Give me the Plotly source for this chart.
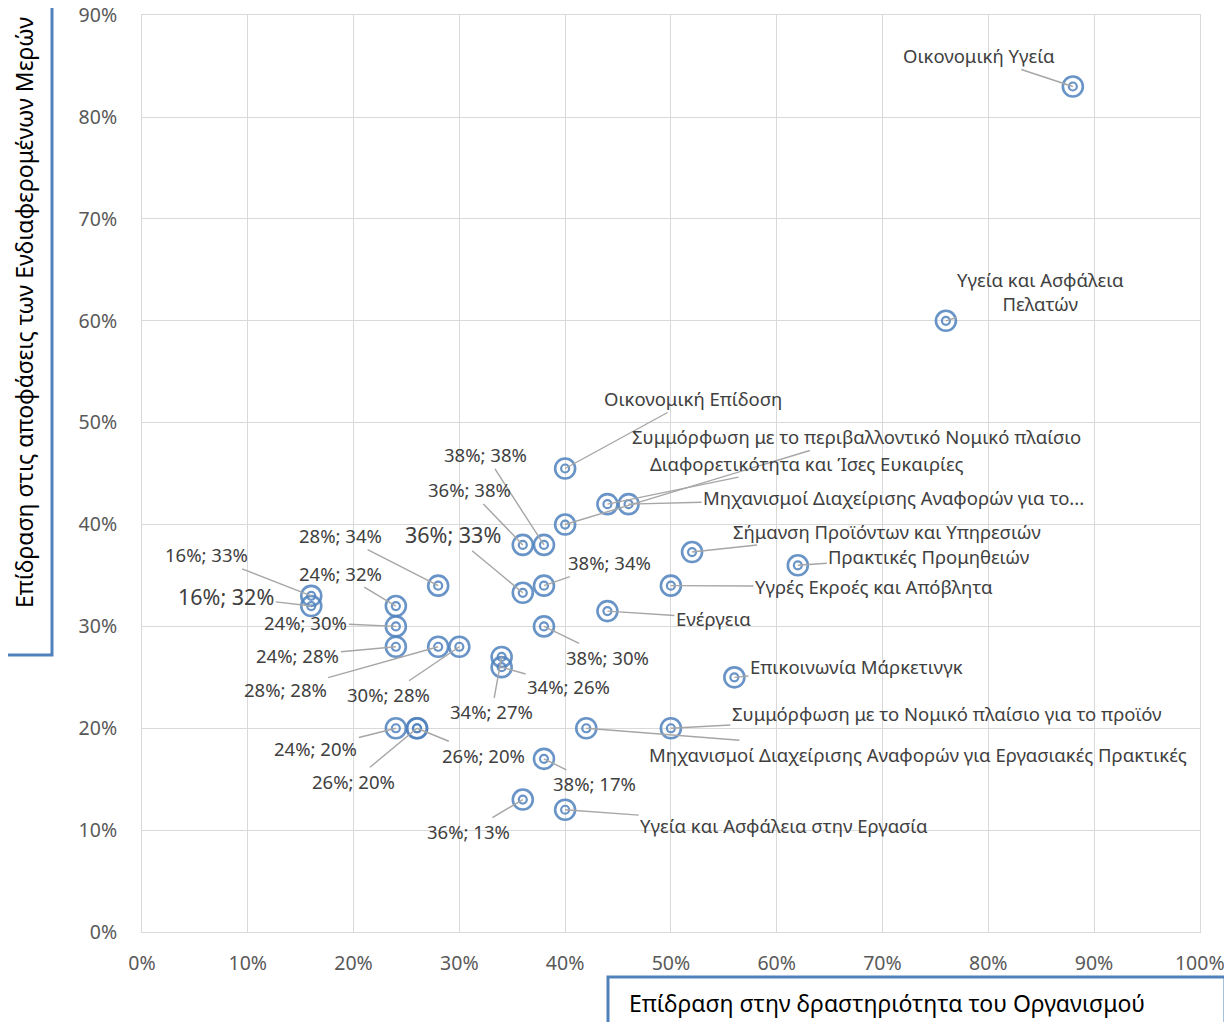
import plotly.graph_objects as go

# ---- data ----
labels = [
    "Οικονομική Υγεία",
    "Υγεία και Ασφάλεια<br>Πελατών",
    "Οικονομική Επίδοση",
    "Συμμόρφωση με το περιβαλλοντικό Νομικό πλαίσιο",
    "Διαφορετικότητα και Ίσες Ευκαιρίες",
    "Μηχανισμοί Διαχείρισης Αναφορών για το...",
    "Σήμανση Προϊόντων και Υπηρεσιών",
    "Πρακτικές Προμηθειών",
    "Υγρές Εκροές και Απόβλητα",
    "Ενέργεια",
    "Επικοινωνία Μάρκετινγκ",
    "Συμμόρφωση με το Νομικό πλαίσιο για το προϊόν",
    "Μηχανισμοί Διαχείρισης Αναφορών για Εργασιακές Πρακτικές",
    "Υγεία και Ασφάλεια στην Εργασία",
    "38%; 38%",
    "36%; 38%",
    "36%; 33%",
    "38%; 34%",
    "28%; 34%",
    "16%; 33%",
    "16%; 32%",
    "24%; 32%",
    "24%; 30%",
    "24%; 28%",
    "28%; 28%",
    "30%; 28%",
    "34%; 27%",
    "34%; 26%",
    "38%; 30%",
    "24%; 20%",
    "26%; 20%",
    "26%; 20%",
    "38%; 17%",
    "36%; 13%",
]
impact_org = [0.88, 0.76, 0.40, 0.40, 0.44, 0.46, 0.52, 0.62, 0.50, 0.44, 0.56, 0.50, 0.42, 0.40,
              0.38, 0.36, 0.36, 0.38, 0.28, 0.16, 0.16, 0.24, 0.24, 0.24, 0.28, 0.30, 0.34, 0.34,
              0.38, 0.24, 0.26, 0.26, 0.38, 0.36]
impact_stake = [0.83, 0.60, 0.455, 0.40, 0.42, 0.42, 0.373, 0.36, 0.34, 0.315, 0.25, 0.20, 0.20, 0.12,
                0.38, 0.38, 0.333, 0.34, 0.34, 0.33, 0.32, 0.32, 0.30, 0.28, 0.28, 0.28, 0.27, 0.26,
                0.30, 0.20, 0.20, 0.20, 0.17, 0.13]

x_title = "Επίδραση στην δραστηριότητα του Οργανισμού"
y_title = "Επίδραση στις αποφάσεις των Ενδιαφερομένων Μερών"

# ---- label placement (pixel offsets from point) ----
offsets = [(-94, -31), (95, -29), (128, -70), (291, -88), (199, -41), (265, -7), (195, -21),
           (131, -9), (203, 1), (106, 7), (122, -11), (276, -15), (332, 26), (219, 16),
           (-58, -90), (-53, -55), (-70, -58), (66, -23), (-98, -50), (-105, -41), (-85, -10),
           (-55, -33), (-90, -4), (-98, 9), (-153, 43), (-71, 48), (-10, 55), (67, 19),
           (64, 31), (-80, 20), (66, 27), (-64, 53), (51, 25), (-54, 32)]
font_sizes = [18.5] * len(labels)
font_sizes[16] = 21.5
font_sizes[20] = 21.5

FONT = "Noto Sans"
mcolor = "rgba(79,129,189,0.85)"

# page -> paper helpers (plot area on page: x 142..1200, y 15..932)
def px(p):
    return (p - 142) / 1058

def py(p):
    return (932 - p) / 917

fig = go.Figure()
fig.add_trace(go.Scatter(x=impact_org, y=impact_stake, mode="markers",
                         marker=dict(symbol="circle-open", size=20, color=mcolor,
                                     line=dict(width=2.6, color=mcolor)),
                         hoverinfo="skip", showlegend=False))
fig.add_trace(go.Scatter(x=impact_org, y=impact_stake, mode="markers",
                         marker=dict(symbol="circle-open", size=8, color=mcolor,
                                     line=dict(width=2.2, color=mcolor)),
                         hovertext=labels, showlegend=False))

for lab, xv, yv, (ox, oy), fs in zip(labels, impact_org, impact_stake, offsets, font_sizes):
    fig.add_annotation(x=xv, y=yv, xref="x", yref="y", text=lab, showarrow=True,
                       ax=ox, ay=oy, arrowhead=0, arrowwidth=1.4, arrowcolor="#a6a6a6",
                       standoff=0, font=dict(family=FONT, size=fs, color="#404040"))

# axis title boxes
fig.add_shape(type="rect", xref="paper", yref="paper",
              x0=px(-20), x1=px(52), y0=py(655), y1=py(-20),
              line=dict(color="#4F81BD", width=3), fillcolor="white", layer="above")
fig.add_shape(type="rect", xref="paper", yref="paper",
              x0=px(608), x1=px(1225), y0=py(1045), y1=py(977),
              line=dict(color="#4F81BD", width=3), fillcolor="white", layer="above")
fig.add_annotation(xref="paper", yref="paper", x=px(24), y=py(313),
                   xanchor="center", yanchor="middle",
                   text=y_title, textangle=-90, showarrow=False,
                   font=dict(family=FONT, size=23, color="black"))
fig.add_annotation(xref="paper", yref="paper", x=px(887), y=py(1003),
                   xanchor="center", yanchor="middle",
                   text=x_title, showarrow=False,
                   font=dict(family=FONT, size=23, color="black"))

axis_common = dict(tickformat=".0%", tick0=0, dtick=0.1, showgrid=True, gridcolor="#d9d9d9",
                   gridwidth=1, zeroline=False, showline=True, mirror=True, linecolor="#d9d9d9",
                   linewidth=1, ticks="", automargin=False, ticklabeloverflow="allow",
                   tickfont=dict(family=FONT, size=19.5, color="#595959"))
fig.update_xaxes(range=[0, 1.0002], ticklabelstandoff=14, **axis_common)
fig.update_yaxes(range=[0, 0.9002], ticklabelstandoff=20, **axis_common)

# page body has an 8px margin: figure occupies page x 8..1232, y 8..1022
fig.update_layout(width=1224, height=1014, margin=dict(l=134, r=32, t=7, b=90),
                  plot_bgcolor="white", paper_bgcolor="white", font=dict(family=FONT))

fig.write_html("out.html")
